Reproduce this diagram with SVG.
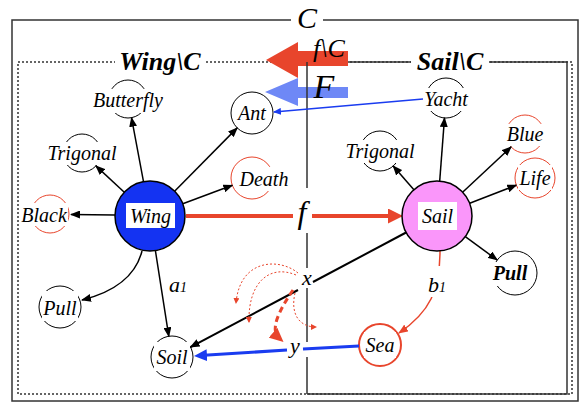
<svg xmlns="http://www.w3.org/2000/svg" width="585" height="407" viewBox="0 0 585 407">
<defs>
<style>
.t{font-family:"Liberation Serif","DejaVu Serif",serif;font-style:italic;font-size:20px;fill:#000;text-anchor:middle}
.tb{font-weight:bold}
.bg{fill:#fff;stroke:none}
.nc{fill:none;stroke:#000;stroke-width:1}
.rc{fill:none;stroke:#E8452C;stroke-width:1}
.e{fill:none;stroke:#000;stroke-width:1.5;marker-end:url(#ab)}
.fr{fill:none;stroke:#333;stroke-width:1.5}
.dot{fill:none;stroke:#E8452C;stroke-width:1;stroke-dasharray:2,2;marker-end:url(#ar4)}
</style>
<marker id="ab" markerUnits="userSpaceOnUse" markerWidth="10" markerHeight="8" refX="9" refY="4" orient="auto"><path d="M0,0L10,4L0,8z" fill="#000"/></marker>
<marker id="abl" markerUnits="userSpaceOnUse" markerWidth="8" markerHeight="7" refX="7" refY="3.5" orient="auto"><path d="M0,0L8,3.5L0,7z" fill="#1A3CF0"/></marker>
<marker id="abl2" markerUnits="userSpaceOnUse" markerWidth="13" markerHeight="12" refX="7" refY="6" orient="auto"><path d="M0,0L13,6L0,12z" fill="#1A3CF0"/></marker>
<marker id="ar" markerUnits="userSpaceOnUse" markerWidth="15" markerHeight="15" refX="4" refY="7.5" orient="auto"><path d="M0,0L15,7.5L0,15z" fill="#E8452C"/></marker>
<marker id="ar2" markerUnits="userSpaceOnUse" markerWidth="10" markerHeight="8" refX="9" refY="4" orient="auto"><path d="M0,0L10,4L0,8z" fill="#E8452C"/></marker>
<marker id="ar3" markerUnits="userSpaceOnUse" markerWidth="14" markerHeight="13" refX="8" refY="6.5" orient="auto"><path d="M0,0L14,6.5L0,13z" fill="#E8452C"/></marker>
<marker id="ar4" markerUnits="userSpaceOnUse" markerWidth="6" markerHeight="6" refX="5" refY="3" orient="auto"><path d="M0,0L6,3L0,6z" fill="#E8452C"/></marker>
</defs>
<rect x="0" y="0" width="585" height="407" fill="#fff"/>

<g id="frames">
<rect class="fr" x="12" y="20" width="566" height="381"/>
<rect x="18" y="62" width="554" height="332" fill="none" stroke="#333" stroke-width="1.5" stroke-dasharray="2,2"/>
<path class="fr" d="M307,62H567V394H307"/>
<rect class="bg" x="291" y="4" width="32" height="30"/>
<text class="t" x="307" y="28" style="font-size:30px">C</text>
<rect class="bg" x="115" y="48" width="90" height="28"/>
<text class="t tb" x="160" y="70" style="font-size:26px">Wing\C</text>
<rect class="bg" x="411" y="48" width="78" height="28"/>
<text class="t tb" x="450" y="70" style="font-size:26px">Sail\C</text>
</g>

<g id="bigarrows">
<polygon points="266,60 298,42 298,51 348,51 348,66 298,66 298,78" fill="#E8452C"/>
<text class="t" x="329" y="57" style="font-size:26px">f\C</text>
<polygon points="265,92 298,78 298,87 348,87 348,98 298,98 298,106" fill="#6E88F6"/>
<text class="t" x="324" y="98" style="font-size:34px">F</text>
</g>

<g id="divider" stroke="#333" stroke-width="1.5">
<path d="M307,62V188M307,233V268M307,288V342M307,357V394"/>
</g>

<g id="n-butterfly"><circle class="nc" cx="128" cy="99" r="19"/><rect class="bg" x="91" y="89" width="74" height="24"/><text class="t" x="128" y="107">Butterfly</text></g>
<g id="n-trigonal-l"><circle class="nc" cx="82" cy="153" r="19"/><rect class="bg" x="45" y="142" width="74" height="23"/><text class="t" x="82" y="160">Trigonal</text></g>
<g id="n-ant"><circle class="nc" cx="252" cy="113" r="21"/><rect class="bg" x="237" y="103" width="30" height="20"/><text class="t" x="252" y="120">Ant</text></g>
<g id="n-death"><circle class="rc" cx="252" cy="178" r="21"/><rect class="bg" x="238" y="167" width="53" height="24"/><text class="t" x="264" y="186">Death</text></g>
<g id="n-black"><circle class="rc" cx="50" cy="214" r="19"/><rect class="bg" x="19" y="203" width="49" height="23"/><text class="t" x="44" y="222">Black</text></g>
<g id="n-pull-l"><circle class="nc" cx="60" cy="307" r="21"/><rect class="bg" x="42" y="291" width="36" height="30"/><text class="t" x="60" y="315">Pull</text></g>
<g id="n-soil"><circle class="nc" cx="172" cy="357" r="21"/><rect class="bg" x="154" y="342" width="36" height="29"/><text class="t" x="172" y="364">Soil</text></g>
<g id="n-yacht"><circle class="nc" cx="446" cy="98" r="20"/><rect class="bg" x="422" y="88" width="48" height="23"/><text class="t" x="446" y="106">Yacht</text></g>
<g id="n-trigonal-r"><circle class="nc" cx="380" cy="151" r="20"/><rect class="bg" x="343" y="140" width="74" height="23"/><text class="t" x="380" y="158">Trigonal</text></g>
<g id="n-blue"><circle class="rc" cx="525" cy="134" r="19"/><rect class="bg" x="505" y="124" width="40" height="22"/><text class="t" x="525" y="141">Blue</text></g>
<g id="n-life"><circle class="rc" cx="535" cy="178" r="20"/><rect class="bg" x="518" y="165" width="34" height="25"/><text class="t" x="535" y="185">Life</text></g>
<g id="n-pull-r"><circle class="nc" cx="515" cy="273" r="22"/><rect class="bg" x="492" y="262" width="36" height="24"/><text class="t tb" x="510" y="280">Pull</text></g>
<g id="n-sea"><circle cx="380" cy="345" r="21" fill="none" stroke="#E8452C" stroke-width="2"/><rect class="bg" x="364" y="332" width="32" height="26"/><text class="t" x="380" y="352">Sea</text></g>

<g id="connectors">
<path class="e" d="M143.5,181.6L131.5,117.7"/>
<path class="e" d="M124.3,192.2L95.9,165.9"/>
<path class="e" d="M174.6,191.2L237.2,127.9"/>
<path class="e" d="M182.8,203.8L232.3,185.3"/>
<path class="e" d="M115,215L71,214.4"/>
<path class="e" d="M142,251C136,275 115,292 82,300"/>
<path class="e" d="M155.4,250.6L168.8,336.3"/>
<path class="e" d="M439.7,181.1L444.5,118"/>
<path class="e" d="M413.9,189.7L393.2,166"/>
<path class="e" d="M462.6,192.2L511.1,146.9"/>
<path class="e" d="M469.7,203.3L516.3,185.2"/>
<path class="e" d="M465.3,236.7L497.2,260"/>
<path d="M406.1,232.5L313,282" fill="none" stroke="#000" stroke-width="2"/>
<path d="M298,290L190.5,347.1" fill="none" stroke="#000" stroke-width="2" marker-end="url(#ab)"/>
<path d="M440,251C440,290 430,312 399,333" fill="none" stroke="#E8452C" stroke-width="1.5" marker-end="url(#ar2)"/>
<path d="M423,99L274,112" fill="none" stroke="#1A3CF0" stroke-width="1.5" marker-end="url(#abl)"/>
<path d="M359,346L303,349" fill="none" stroke="#1A3CF0" stroke-width="3"/>
<path d="M287,350L200,355.6" fill="none" stroke="#1A3CF0" stroke-width="3" marker-end="url(#abl2)"/>
<path d="M186,216H293" fill="none" stroke="#E8452C" stroke-width="4"/>
<path d="M312,216H392" fill="none" stroke="#E8452C" stroke-width="4" marker-end="url(#ar)"/>
<path class="dot" d="M298,273C280,258 240,258 236,303"/>
<path class="dot" d="M296,275C270,264 248,282 249,322"/>
<path class="dot" d="M295,293C290,315 300,327 316,327"/>
<path d="M293,290C278,312 270,330 279,338" fill="none" stroke="#E8452C" stroke-width="3" stroke-dasharray="6,4" marker-end="url(#ar3)"/>
</g>

<g id="n-wing"><circle cx="150" cy="216" r="35" fill="#1433F2" stroke="#000" stroke-width="1.5"/><rect class="bg" x="126" y="203" width="49" height="25"/><text class="t" x="150.5" y="223">Wing</text></g>
<g id="n-sail"><circle cx="437" cy="216" r="35" fill="#FA96FA" stroke="#000" stroke-width="1.5"/><rect class="bg" x="418" y="202" width="39" height="28"/><text class="t" x="437.5" y="223">Sail</text></g>

<g id="labels">
<text class="t" x="302" y="223" style="font-size:32px">f</text>
<text class="t" x="307" y="285" style="font-size:22px">x</text>
<text class="t" x="295" y="353" style="font-size:22px">y</text>
<text class="t" x="178" y="292" style="font-size:22px">a<tspan style="font-size:14px">1</tspan></text>
<rect class="bg" x="424" y="266" width="26" height="31"/>
<text class="t" x="437" y="292" style="font-size:22px">b<tspan style="font-size:14px">1</tspan></text>
</g>
</svg>
